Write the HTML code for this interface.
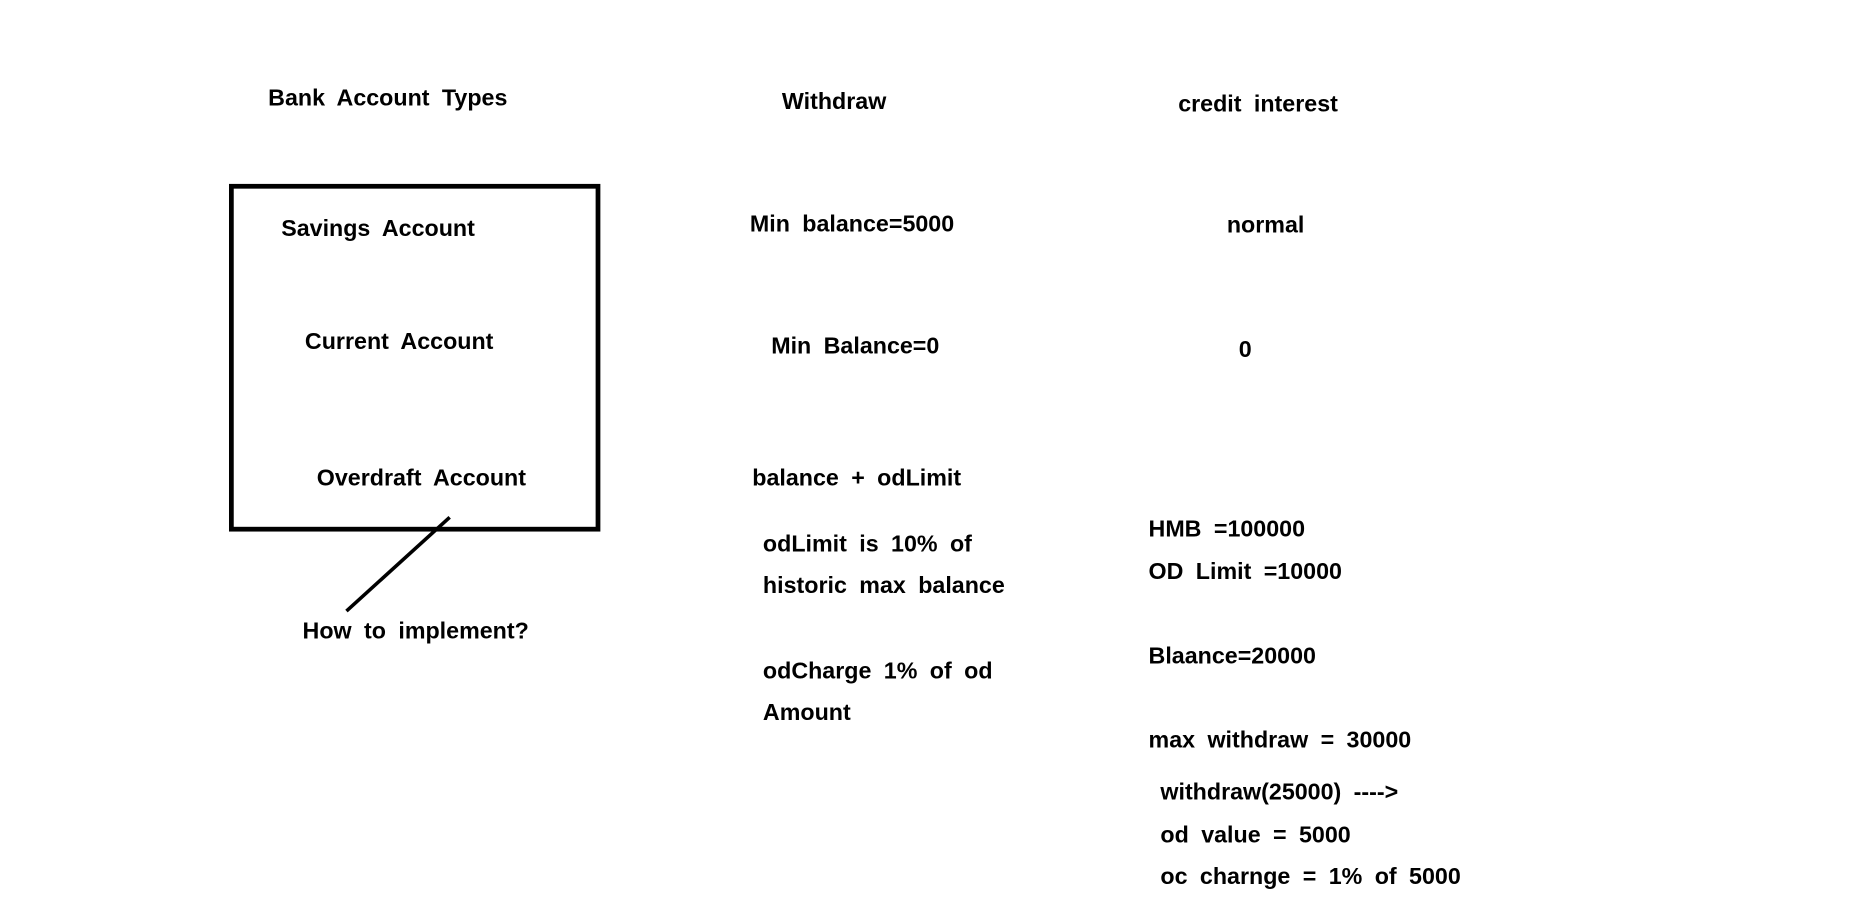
<!DOCTYPE html>
<html><head><meta charset="utf-8"><style>
html,body{margin:0;padding:0;background:#fff;width:1851px;height:898px;overflow:hidden}
#w{position:absolute;left:0;top:0;width:1560px;height:757px;transform:scale(1.1865);transform-origin:0 0}
.t{position:absolute;font-family:"Liberation Sans",Arial,sans-serif;font-weight:bold;font-size:19.6px;line-height:20px;word-spacing:5px;white-space:nowrap;color:#000;transform:translate(-1px,-11px)}
#box{position:absolute;left:193px;top:155px;width:305px;height:285px;border:4px solid #000}
</style></head><body><div id="w">
<div id="box"></div>
<svg style="position:absolute;left:0;top:0" width="1560" height="757"><line x1="379" y1="436" x2="292" y2="515" stroke="#000" stroke-width="3"/></svg>
<div class="t" style="left:227px;top:84px">Bank Account Types</div>
<div class="t" style="left:660px;top:87px">Withdraw</div>
<div class="t" style="left:994px;top:89px">credit interest</div>
<div class="t" style="left:238px;top:194px">Savings Account</div>
<div class="t" style="left:258px;top:289px">Current Account</div>
<div class="t" style="left:268px;top:404px">Overdraft Account</div>
<div class="t" style="left:633px;top:190px">Min balance=5000</div>
<div class="t" style="left:1035px;top:191px">normal</div>
<div class="t" style="left:651px;top:293px">Min Balance=0</div>
<div class="t" style="left:1045px;top:296px">0</div>
<div class="t" style="left:635px;top:404px">balance + odLimit</div>
<div class="t" style="left:644px;top:460px">odLimit is 10% of</div>
<div class="t" style="left:644px;top:495px">historic max balance</div>
<div class="t" style="left:644px;top:567px">odCharge 1% of od</div>
<div class="t" style="left:644px;top:602px">Amount</div>
<div class="t" style="left:969px;top:447px">HMB =100000</div>
<div class="t" style="left:969px;top:483px">OD Limit =10000</div>
<div class="t" style="left:969px;top:554px">Blaance=20000</div>
<div class="t" style="left:969px;top:625px">max withdraw = 30000</div>
<div class="t" style="left:979px;top:669px">withdraw(25000) ----&gt;</div>
<div class="t" style="left:979px;top:705px">od value = 5000</div>
<div class="t" style="left:979px;top:740px">oc charnge = 1% of 5000</div>
<div class="t" style="left:256px;top:533px">How to implement?</div>
</div></body></html>
